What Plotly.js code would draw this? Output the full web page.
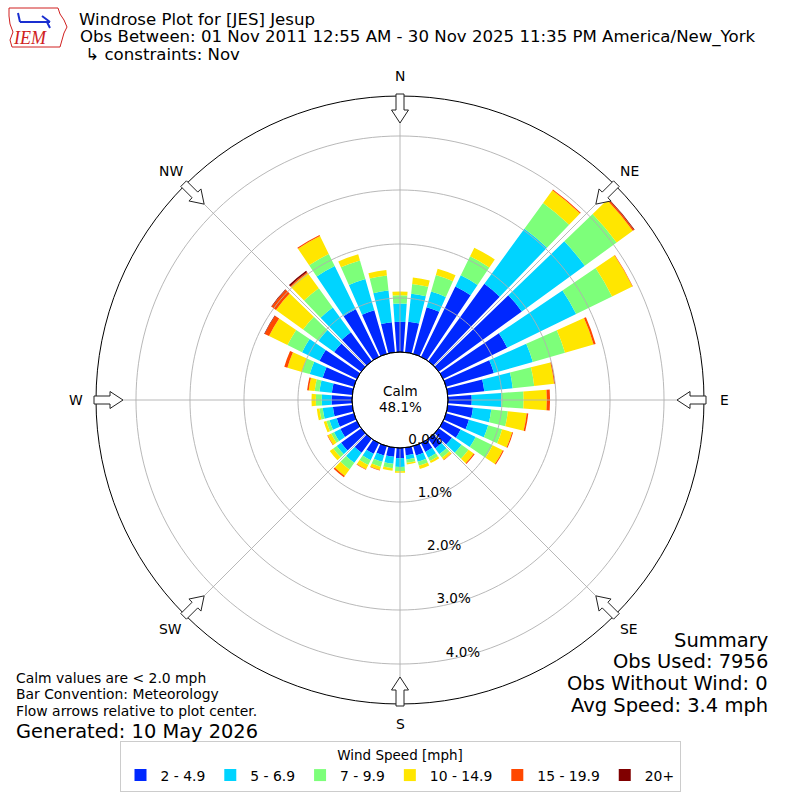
<!DOCTYPE html>
<html>
<head>
<meta charset="utf-8">
<script src="https://cdn.plot.ly/plotly-3.0.1.min.js"></script>
<style>html,body{margin:0;padding:0;background:#fff}#chart{width:800px;height:800px}</style>
</head>
<body>
<div id="chart"></div>
<script>
// ---- data (percent of observations) ----
const directions = [0,10,20,30,40,50,60,70,80,90,100,110,120,130,140,150,160,170,180,190,200,210,220,230,240,250,260,270,280,290,300,310,320,330,340,350];
const speedBins = ['2 - 4.9','5 - 6.9','7 - 9.9','10 - 14.9','15 - 19.9','20+'];
const binColors = ['#0028ff','#00d4ff','#7dff7a','#ffe600','#ff4800','#800000'];
const freq_2_5   = [0.56,0.57,0.90,1.45,1.77,1.90,1.32,0.92,0.68,0.44,0.47,0.44,0.36,0.30,0.22,0.18,0.18,0.14,0.19,0.17,0.18,0.22,0.32,0.46,0.34,0.33,0.36,0.38,0.38,0.60,0.77,0.62,0.66,0.98,0.84,0.56];
const freq_5_7   = [0.34,0.52,0.30,0.23,1.26,1.44,1.42,0.75,0.53,0.55,0.34,0.37,0.31,0.22,0.13,0.12,0.12,0.08,0.16,0.13,0.12,0.13,0.23,0.10,0.13,0.14,0.19,0.18,0.23,0.25,0.36,0.36,0.57,0.89,0.60,0.59];
const freq_7_10  = [0.15,0.18,0.32,0.39,0.59,0.73,0.74,0.62,0.40,0.41,0.31,0.27,0.35,0.16,0.08,0.07,0.08,0.06,0.08,0.08,0.10,0.10,0.15,0.08,0.06,0.06,0.06,0.11,0.09,0.15,0.30,0.35,0.44,0.25,0.36,0.28];
const freq_10_15 = [0.07,0.12,0.12,0.18,0.29,0.37,0.42,0.55,0.37,0.43,0.35,0.19,0.21,0.12,0.05,0.04,0.06,0.03,0.03,0.05,0.06,0.09,0.15,0.08,0.07,0.05,0.05,0.08,0.11,0.28,0.38,0.62,0.35,0.37,0.12,0.10];
const freq_15_20 = [0,0,0,0,0.02,0.03,0.01,0.04,0.02,0.06,0.03,0.02,0.02,0.02,0.01,0,0,0,0,0,0.01,0.01,0.03,0,0.01,0,0,0,0.03,0.06,0.09,0.10,0.02,0.02,0,0];
const freq_20p   = [0,0,0,0,0,0.01,0,0,0,0,0,0,0,0,0,0,0,0,0,0,0,0,0,0,0,0,0,0,0,0,0.01,0.01,0.03,0,0,0];
const binValues = [freq_2_5, freq_5_7, freq_7_10, freq_10_15, freq_15_20, freq_20p];

const radialTicks = [0,1,2,3,4];
const radialTickText = ['0.0%','1.0%','2.0%','3.0%','4.0%'];
const compassAngles = [0,45,90,135,180,225,270,315];
const compassLabels = ['N','NE','E','SE','S','SW','W','NW'];
const calmText = ['Calm','48.1%'];
const titleLines = ['Windrose Plot for [JES] Jesup','Obs Between: 01 Nov 2011 12:55 AM - 30 Nov 2025 11:35 PM America/New_York',' \u21b3 constraints: Nov'];
const noteLines = ['Calm values are < 2.0 mph','Bar Convention: Meteorology','Flow arrows relative to plot center.'];
const generatedText = 'Generated: 10 May 2026';
const summaryLines = ['Summary','Obs Used: 7956','Obs Without Wind: 0','Avg Speed: 3.4 mph'];

// ---- geometry ----
const W = 800, CX = 400, CY = 400, R = 304, HOLE_PX = 48;
const RMAX = 4.74;
const FONT = 'DejaVu Sans, Verdana, sans-serif';
const px2x = p => p / W;
const px2y = p => 1 - p / W;

const traces = [];
binValues.forEach((vals, i) => {
  traces.push({
    type: 'barpolar', name: speedBins[i], r: vals, theta: directions,
    width: 8, marker: {color: binColors[i], line: {width: 0}},
    hoverinfo: 'name+r+theta'
  });
});
// grid overlays (drawn above bars as in reference)
const circleTheta = [];
for (let a = 0; a <= 360; a += 2) circleTheta.push(a);
radialTicks.slice(1).forEach(t => {
  traces.push({type:'scatterpolar', mode:'lines', r: circleTheta.map(() => t), theta: circleTheta,
    line:{color:'#b0b0b0', width:0.9}, hoverinfo:'skip', showlegend:false});
});
compassAngles.forEach(a => {
  traces.push({type:'scatterpolar', mode:'lines', r:[0, RMAX], theta:[a, a],
    line:{color:'#b0b0b0', width:0.9}, hoverinfo:'skip', showlegend:false});
});
// radial tick labels
traces.push({type:'scatterpolar', mode:'text', r: radialTicks, theta: radialTicks.map(() => 170),
  text: radialTickText, textposition:'top right', cliponaxis:false,
  textfont:{family:FONT, size:13.5, color:'#000'}, hoverinfo:'skip', showlegend:false});

// ---- shapes: arrows, hole edge, logo ----
const shapes = [];
function pt(px, py) { return px2x(px).toFixed(5) + ',' + px2y(py).toFixed(5); }
compassAngles.forEach(b => {
  const t = b * Math.PI / 180;
  const ux = Math.sin(t), uy = -Math.cos(t), vx = Math.cos(t), vy = Math.sin(t);
  const p = [[R+2,-4],[R-14,-4],[R-14,-8.5],[R-27,0],[R-14,8.5],[R-14,4],[R+2,4]];
  const d = p.map((q,i) => (i ? 'L' : 'M') + pt(CX + q[0]*ux + q[1]*vx, CY + q[0]*uy + q[1]*vy)).join(' ') + ' Z';
  shapes.push({type:'path', xref:'paper', yref:'paper', path:d, fillcolor:'#ffffff', line:{color:'#222222', width:1}, layer:'above'});
});
shapes.push({type:'circle', xref:'paper', yref:'paper',
  x0:px2x(CX-HOLE_PX), x1:px2x(CX+HOLE_PX), y0:px2y(CY+HOLE_PX), y1:px2y(CY-HOLE_PX),
  line:{color:'#000', width:1}, fillcolor:'rgba(0,0,0,0)', layer:'above'});
// IEM logo outline
const logoPts = [[9,8],[58,8],[60,14],[64,20],[67,27],[64,33],[62,40],[60,47],[12,47],[10,40],[13,32],[10,24],[9,16]];
shapes.push({type:'path', xref:'paper', yref:'paper',
  path: logoPts.map((q,i)=>(i?'L':'M')+pt(q[0],q[1])).join(' ')+' Z',
  line:{color:'#d02020', width:1}, fillcolor:'rgba(0,0,0,0)'});
shapes.push({type:'path', xref:'paper', yref:'paper',
  path: 'M'+pt(20,22)+' L'+pt(50,22)+' M'+pt(20,22)+' L'+pt(18,13)+' M'+pt(42,16)+' L'+pt(50,22)+' M'+pt(47,22)+' L'+pt(50,28),
  line:{color:'#1a2fd0', width:2}});

// ---- annotations ----
const ann = [];
function addText(text, px, py, size, anchor, extra) {
  ann.push(Object.assign({text:text, xref:'paper', yref:'paper', x:px2x(px), y:px2y(py),
    xanchor:anchor, yanchor:'middle', showarrow:false, borderpad:0,
    font:{family:FONT, size:size, color:'#000'}}, extra||{}));
}
addText(titleLines[1], 79, 37, 16.6, 'left');
addText(titleLines[2], 79, 55, 16.6, 'left');
addText(calmText[0], CX, 391, 13.5, 'center');
addText(calmText[1], CX, 407, 13.5, 'center');
noteLines.forEach((t,i) => addText(t, 15, 678 + i*16.3, 13.9, 'left'));
addText(generatedText, 15, 731, 19.4, 'left');
summaryLines.forEach((t,i) => addText(t, 769, 640 + i*21.7, 19.5, 'right'));
// compass labels just outside the outer ring
compassAngles.forEach((b, i) => {
  const t = b * Math.PI / 180;
  addText(compassLabels[i], CX + (R + 20) * Math.sin(t), CY - (R + 20) * Math.cos(t), 13.9, 'center');
});
ann.push({text:'IEM', xref:'paper', yref:'paper', x:px2x(30), y:px2y(38), xanchor:'center', yanchor:'middle',
  showarrow:false, font:{family:'Liberation Serif, serif', size:18, color:'#d02020', style:'italic'}});

const layout = {
  width: W, height: W,
  margin: {l:0, r:0, t:0, b:0},
  paper_bgcolor: '#fff',
  title: {text: titleLines[0], x: px2x(79), xanchor:'left', xref:'paper', y: px2y(19), yanchor:'middle', yref:'paper',
    font:{family:FONT, size:16.6, color:'#000'}},
  polar: {
    domain: {x:[px2x(CX-R), px2x(CX+R)], y:[px2y(CY+R), px2y(CY-R)]},
    hole: HOLE_PX / R,
    bgcolor: '#fff',
    barmode: 'stack',
    bargap: 0,
    radialaxis: {range:[0, RMAX], showgrid:false, showticklabels:false, showline:false, ticks:''},
    angularaxis: {rotation:90, direction:'clockwise', showgrid:false, showticklabels:false, ticks:'',
      showline:true, linecolor:'#000', linewidth:1}
  },
  showlegend: true,
  legend: {orientation:'h', x:0.5, xanchor:'center', y:px2y(741), yanchor:'top',
    bordercolor:'#cccccc', borderwidth:1, bgcolor:'#fff',
    font:{family:FONT, size:13.9, color:'#000'},
    itemwidth:30, tracegroupgap:0,
    title:{text:'Wind Speed [mph]', side:'top center', font:{family:FONT, size:13.5, color:'#000'}},
    traceorder:'normal'},
  shapes: shapes,
  annotations: ann
};

Plotly.newPlot('chart', traces, layout, {displayModeBar:false, staticPlot:true});
</script>
</body>
</html>
